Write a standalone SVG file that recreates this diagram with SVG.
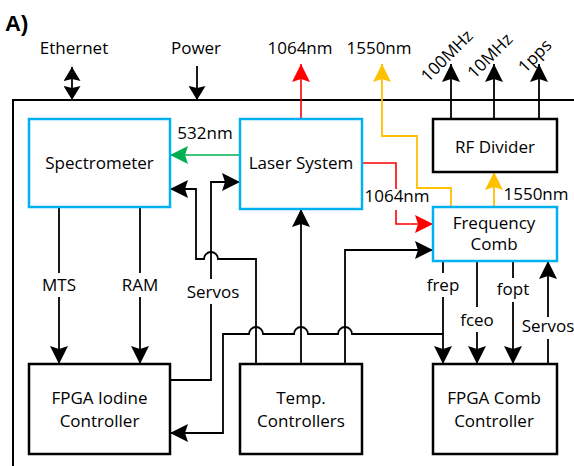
<svg xmlns="http://www.w3.org/2000/svg" width="574" height="466" viewBox="0 0 574 466">
<style>
text{font-family:"Open Sans","Liberation Sans",sans-serif;font-size:17px;fill:#000}
.c{text-anchor:middle}
.box{fill:#fff;stroke:#000;stroke-width:2.5}
.cy{fill:#fff;stroke:#00B0F0;stroke-width:2.5}
.k{fill:none;stroke:#000;stroke-width:1.8}
.r{fill:none;stroke:#FF0000;stroke-width:1.6}
.y{fill:none;stroke:#FFC000;stroke-width:1.8}
.g{fill:none;stroke:#00B050;stroke-width:1.6}
.bg{fill:#fff}
</style>
<defs>
<marker id="ak" markerUnits="userSpaceOnUse" markerWidth="18" markerHeight="18" refX="18" refY="9" orient="auto"><path d="M0,0 L18,9 L0,18 L3,9 z" fill="#000"/></marker>
<marker id="ar" markerUnits="userSpaceOnUse" markerWidth="18" markerHeight="18" refX="18" refY="9" orient="auto"><path d="M0,0 L18,9 L0,18 L3,9 z" fill="#FF0000"/></marker>
<marker id="ay" markerUnits="userSpaceOnUse" markerWidth="18" markerHeight="18" refX="18" refY="9" orient="auto"><path d="M0,0 L18,9 L0,18 L3,9 z" fill="#FFC000"/></marker>
<marker id="ag" markerUnits="userSpaceOnUse" markerWidth="18" markerHeight="18" refX="18" refY="9" orient="auto"><path d="M0,0 L18,9 L0,18 L3,9 z" fill="#00B050"/></marker>
<marker id="as" markerUnits="userSpaceOnUse" markerWidth="14" markerHeight="17" refX="14" refY="8.5" orient="auto-start-reverse"><path d="M0,0 L14,8.5 L0,17 L2,8.5 z" fill="#000"/></marker>
</defs>

<text x="5" y="31" style="font-family:'Liberation Sans',sans-serif;font-weight:bold;font-size:22px">A)</text>

<!-- outer frame -->
<path d="M13,466 V100 H574" fill="none" stroke="#000" stroke-width="2"/>

<!-- top labels -->
<text class="c" x="74" y="54">Ethernet</text>
<text class="c" x="196" y="54">Power</text>
<text class="c" x="300" y="54">1064nm</text>
<text class="c" x="379" y="54">1550nm</text>
<text class="c" transform="translate(451,60) rotate(-45)">100MHz</text>
<text class="c" transform="translate(494,60) rotate(-45)">10MHz</text>
<text class="c" transform="translate(539,60) rotate(-45)">1pps</text>

<g id="connectors">
  <line class="k" x1="72" y1="67" x2="72" y2="100" marker-start="url(#as)" marker-end="url(#as)" stroke-width="1.5"/>
  <line class="k" x1="197" y1="66" x2="197" y2="100" marker-end="url(#as)" stroke-width="1.5"/>
  <line class="r" x1="301" y1="119" x2="301" y2="64" marker-end="url(#ar)"/>
  <path class="y" d="M451,207 V188 H417 V136 H382 V64" marker-end="url(#ay)"/>
  <line class="k" x1="451" y1="119" x2="451" y2="64" marker-end="url(#ak)"/>
  <line class="k" x1="494" y1="119" x2="494" y2="64" marker-end="url(#ak)"/>
  <line class="k" x1="539" y1="119" x2="539" y2="64" marker-end="url(#ak)"/>
  <line class="y" x1="494" y1="207" x2="494" y2="172" marker-end="url(#ay)"/>
  <line class="g" x1="240" y1="155" x2="170" y2="155" marker-end="url(#ag)"/>
  <path class="r" d="M362,163 H396 V224 H433" marker-end="url(#ar)"/>
  <path class="k" d="M345,364 V250 H433" marker-end="url(#ak)"/>
  <path class="k" d="M301,364 V209" marker-end="url(#ak)"/>
  <path class="k" d="M256,364 V259 H218 A7,7 0 0 0 204,259 H196 V189 H170" marker-end="url(#ak)"/>
  <path class="k" d="M170,380 H211 V182 H240" marker-end="url(#ak)"/>
  <path class="k" d="M443,261 V364" marker-end="url(#ak)"/>
  <path class="k" d="M443,334 H352 A7,7 0 0 0 338,334 H308 A7,7 0 0 0 294,334 H263 A7,7 0 0 0 249,334 H223 V433 H170" marker-end="url(#ak)"/>
  <path class="k" d="M477,261 V364" marker-end="url(#ak)"/>
  <path class="k" d="M513,261 V364" marker-end="url(#ak)"/>
  <path class="k" d="M548,364 V261" marker-end="url(#ak)"/>
  <path class="k" d="M59,207 V364" marker-end="url(#ak)"/>
  <path class="k" d="M140,207 V364" marker-end="url(#ak)"/>
</g>

<g id="labels">
  <text class="c" x="205" y="139">532nm</text>
  <rect class="bg" x="364" y="189" width="66" height="21"/>
  <text class="c" x="397" y="202">1064nm</text>
  <text class="c" x="536" y="200">1550nm</text>
  <rect class="bg" x="40" y="273" width="38" height="24"/>
  <text class="c" x="59" y="291">MTS</text>
  <rect class="bg" x="121" y="273" width="38" height="24"/>
  <text class="c" x="140" y="291">RAM</text>
  <rect class="bg" x="186" y="279" width="55" height="25"/>
  <text class="c" x="213" y="298">Servos</text>
  <rect class="bg" x="426" y="273" width="34" height="24"/>
  <text class="c" x="443" y="291">frep</text>
  <rect class="bg" x="460" y="307" width="34" height="25"/>
  <text class="c" x="477" y="326">fceo</text>
  <rect class="bg" x="496" y="278" width="34" height="24"/>
  <text class="c" x="513" y="295">fopt</text>
  <rect class="bg" x="521" y="317" width="53" height="22"/>
  <text class="c" x="548" y="332">Servos</text>
</g>

<g id="spectrometer">
  <rect class="cy" x="29" y="119" width="141" height="88"/>
  <text class="c" x="99.5" y="169">Spectrometer</text>
</g>
<g id="laser-system">
  <rect class="cy" x="240" y="119" width="122" height="90"/>
  <text class="c" x="301" y="169">Laser System</text>
</g>
<g id="rf-divider">
  <rect class="box" x="433" y="119" width="124" height="53"/>
  <text class="c" x="495" y="153">RF Divider</text>
</g>
<g id="frequency-comb">
  <rect class="cy" x="433" y="207" width="124" height="54"/>
  <text class="c" x="494" y="229">Frequency</text>
  <text class="c" x="494" y="250">Comb</text>
</g>
<g id="fpga-iodine">
  <rect class="box" x="29" y="364" width="141" height="90"/>
  <text class="c" x="99.5" y="404">FPGA Iodine</text>
  <text class="c" x="99.5" y="427">Controller</text>
</g>
<g id="temp-controllers">
  <rect class="box" x="240" y="364" width="122" height="90"/>
  <text class="c" x="301" y="404">Temp.</text>
  <text class="c" x="301" y="427">Controllers</text>
</g>
<g id="fpga-comb">
  <rect class="box" x="433" y="364" width="124" height="90"/>
  <text class="c" x="494" y="404">FPGA Comb</text>
  <text class="c" x="494" y="427">Controller</text>
</g>
</svg>
